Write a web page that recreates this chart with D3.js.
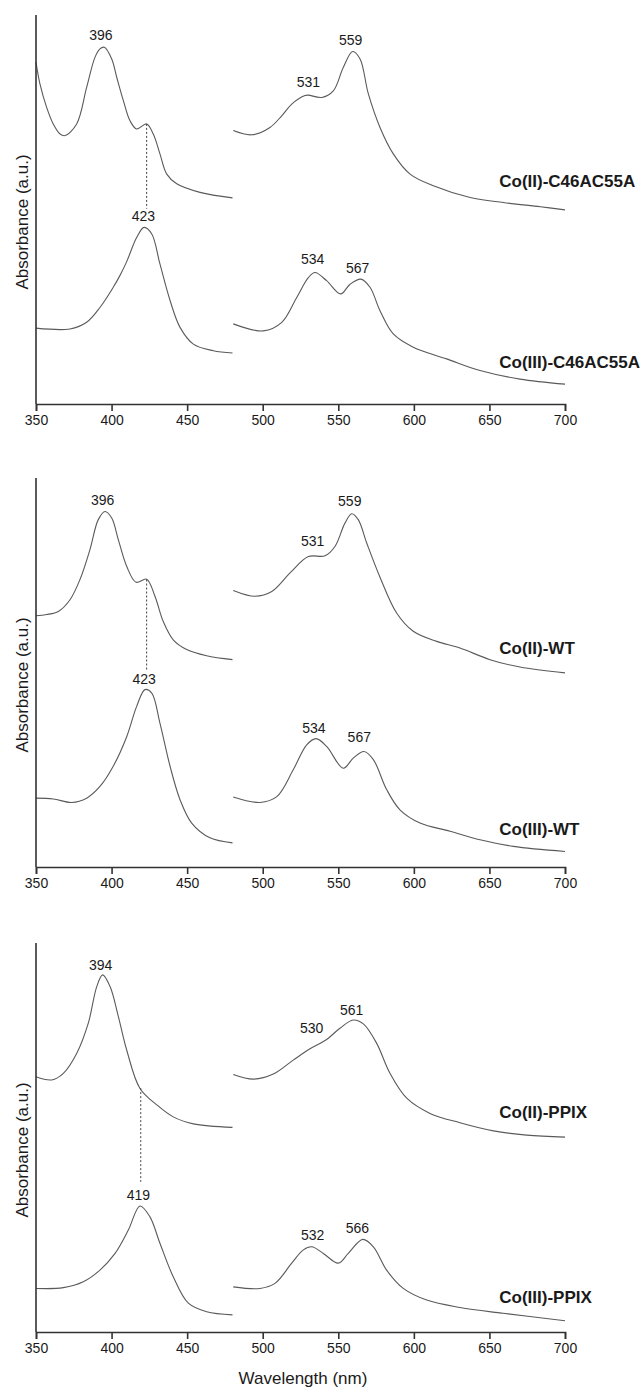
<!DOCTYPE html>
<html>
<head>
<meta charset="utf-8">
<script src="https://cdn.jsdelivr.net/npm/d3@7"></script>
<style>
body { margin: 0; background: #fff; }
text { font-family: "Liberation Sans", Arial, sans-serif; fill: #1a1a1a; }
</style>
</head>
<body>
<svg id="chart" width="641" height="1389"></svg>
<script>
// x ticks (nm)
var majorTicks = [350, 400, 450, 500, 550, 600, 650, 700]
var minorTicks = [375, 425, 475, 525, 575, 625, 675]

// spectra: [wavelength nm, absorbance a.u.]
// Soret part is 350-480 nm, Q part 480-700 nm (separately scaled in the figure)
var c46Co2Soret = [[350,0.878],[352.6,0.823],[357.1,0.762],[361.4,0.720],[365.9,0.694],[369.2,0.690],
  [376.9,0.720],[383.5,0.814],[389,0.891],[392.3,0.913],[395.2,0.917],[400.1,0.887],[403.4,0.840],
  [407.8,0.780],[412.2,0.728],[416.6,0.707],[423.2,0.720],[427.6,0.694],[432,0.643],[436.5,0.591],
  [443.1,0.566],[458.5,0.544],[480,0.530]]
var c46Co2Q = [[480.5,0.703],[492.7,0.692],[504.8,0.711],[512.6,0.741],[519.2,0.771],[528,0.793],
  [530.2,0.794],[539,0.788],[546.7,0.805],[553.3,0.865],[559.5,0.906],[564.4,0.887],[569.9,0.797],
  [577.6,0.711],[586.4,0.643],[597.5,0.591],[612.9,0.561],[637.2,0.531],[659.2,0.518],[683.7,0.507],[700,0.499]]
var c46Co3Soret = [[350,0.195],[372.5,0.193],[383.5,0.210],[392.3,0.248],[401.1,0.300],[405.5,0.330],
  [410,0.366],[416.6,0.428],[421.5,0.454],[426.6,0.437],[432,0.360],[438.7,0.266],[445.3,0.197],
  [454.1,0.154],[467.3,0.137],[480,0.131]]
var c46Co3Q = [[480.5,0.206],[500.4,0.188],[512.6,0.210],[522.5,0.274],[530.2,0.325],[534.6,0.338],
  [542.3,0.317],[551.6,0.283],[557.8,0.308],[565,0.321],[571,0.300],[577.6,0.240],[586.4,0.180],
  [599.6,0.146],[621.7,0.116],[643.8,0.086],[670.2,0.064],[700,0.051]]

var wtCo2Soret = [[350,0.646],[357.1,0.649],[364.8,0.657],[372.5,0.687],[379.1,0.739],[385.7,0.816],
  [391.2,0.893],[395.7,0.914],[400.1,0.897],[404.5,0.841],[410,0.773],[416.2,0.732],[423.2,0.740],
  [428.7,0.696],[434.2,0.631],[440.8,0.584],[449.7,0.559],[462.9,0.543],[480,0.533]]
var wtCo2Q = [[480.5,0.711],[494.9,0.696],[506,0.708],[518.1,0.756],[530.2,0.798],[541.2,0.800],
  [547.8,0.824],[554.4,0.884],[558.9,0.908],[563.2,0.893],[568.8,0.833],[577.6,0.745],[588.6,0.653],
  [599.6,0.606],[615.1,0.580],[630.5,0.563],[650.4,0.533],[670.2,0.514],[700,0.499]]
var wtCo3Soret = [[350,0.177],[361.4,0.175],[373.6,0.166],[383.5,0.177],[392.3,0.207],[401.1,0.259],
  [410,0.335],[416.6,0.413],[422.1,0.456],[426.6,0.447],[432,0.370],[438.7,0.259],[445.3,0.173],
  [453,0.113],[465.1,0.075],[480,0.062]]
var wtCo3Q = [[480.5,0.180],[498.2,0.166],[509.3,0.181],[520.2,0.250],[529.1,0.314],[535.3,0.330],
  [542.3,0.310],[553.3,0.254],[559.9,0.280],[567,0.297],[573.2,0.276],[582,0.199],[590.8,0.147],
  [604.1,0.113],[623.9,0.092],[643.8,0.070],[665.8,0.053],[700,0.040]]

var ppixCo2Soret = [[350,0.656],[360.4,0.648],[368.1,0.665],[376.9,0.716],[384.6,0.794],[390.2,0.888],
  [394.1,0.918],[399,0.888],[404.5,0.811],[410,0.725],[418.8,0.626],[429.9,0.584],[440.8,0.553],
  [454.1,0.535],[480,0.526]]
var ppixCo2Q = [[480.5,0.662],[493.8,0.650],[507,0.663],[520.2,0.699],[531.3,0.728],[542.3,0.752],
  [551.1,0.781],[559.9,0.802],[566.6,0.792],[575.4,0.742],[584.2,0.665],[595.3,0.601],[610.7,0.562],
  [630.5,0.538],[652.6,0.517],[674.7,0.506],[700,0.501]]
var ppixCo3Soret = [[350,0.112],[368.1,0.114],[381.3,0.129],[392.3,0.159],[402.3,0.202],[411.1,0.262],
  [418.8,0.324],[425.4,0.296],[432,0.228],[440.8,0.142],[450.8,0.074],[462.9,0.052],[480,0.044]]
var ppixCo3Q = [[480.5,0.116],[498.2,0.112],[508.1,0.125],[519.2,0.177],[526.9,0.211],[532.4,0.219],
  [540.1,0.202],[550,0.177],[556.6,0.202],[566.2,0.238],[573.2,0.219],[582,0.159],[593,0.112],
  [608.5,0.082],[630.5,0.063],[659.2,0.048],[700,0.029]]

var seriesNames = [["Co(II)-C46AC55A", "Co(III)-C46AC55A"],
                   ["Co(II)-WT", "Co(III)-WT"],
                   ["Co(II)-PPIX", "Co(III)-PPIX"]]
var seriesLabelAbs = [[0.559, 0.092], [0.548, 0.082], [0.551, 0.075]]
var seriesLabelNm = 656.5

// peak annotations: [text, wavelength, absorbance]
var peakLabels = [
  [["396",393,0.920],["423",421,0.454],["531",530.2,0.800],["559",558.2,0.907],["534",533,0.344],["567",562.8,0.321]],
  [["396",394.1,0.916],["423",421.5,0.455],["531",533,0.809],["559",557.6,0.913],["534",533.9,0.329],["567",563.9,0.305]],
  [["394",392.8,0.915],["419",417.7,0.324],["530",532.4,0.754],["561",558.9,0.799],["532",533,0.221],["566",562.6,0.238]]
]
// dotted drop lines: [wavelength, from abs, to abs]
var dropLines = [[423.2, 0.720, 0.502], [423.2, 0.739, 0.507], [419.3, 0.627, 0.386]]

var spectra = [
  [[c46Co2Soret, c46Co2Q], [c46Co3Soret, c46Co3Q]],
  [[wtCo2Soret, wtCo2Q], [wtCo3Soret, wtCo3Q]],
  [[ppixCo2Soret, ppixCo2Q], [ppixCo3Soret, ppixCo3Q]]
]

/********
* layout
********/
var plot_left = 36
var plot_right = 565
var panel_top = [15, 478, 943]
var panel_h = 389

var x = d3.scaleLinear().domain([350, 700]).range([plot_left, plot_right])

var svg = d3.select("#chart")

function draw_panel(i){
  var top = panel_top[i]
  var y = d3.scaleLinear().domain([0, 1]).range([top + panel_h, top])
  var g = svg.append("g").attr("class", "panel" + i)

  var line = d3.line()
    .x(function(d){ return x(d[0]) })
    .y(function(d){ return y(d[1]) })
    .curve(d3.curveCatmullRom.alpha(0.5))

  // curves
  spectra[i].forEach(function(s){
    s.forEach(function(seg){
      g.append("path")
        .attr("d", line(seg))
        .attr("fill", "none")
        .attr("stroke", "#5a5a5a")
        .attr("stroke-width", 1.1)
    })
  })

  // dotted line
  var dl = dropLines[i]
  g.append("line")
    .attr("x1", x(dl[0])).attr("x2", x(dl[0]))
    .attr("y1", y(dl[1])).attr("y2", y(dl[2]))
    .attr("stroke", "#444")
    .attr("stroke-width", 1)
    .attr("stroke-dasharray", "2,2")

  // peak labels
  g.selectAll(".peak")
    .data(peakLabels[i])
    .enter()
    .append("text")
    .attr("class", "peak")
    .attr("x", function(d){ return x(d[1]) })
    .attr("y", function(d){ return y(d[2]) - 6 })
    .attr("text-anchor", "middle")
    .attr("font-size", 14)
    .text(function(d){ return d[0] })

  // series names
  g.selectAll(".sname")
    .data(seriesNames[i])
    .enter()
    .append("text")
    .attr("class", "sname")
    .attr("x", x(seriesLabelNm))
    .attr("y", function(d, k){ return y(seriesLabelAbs[i][k]) })
    .attr("font-size", 17)
    .attr("font-weight", "bold")
    .text(function(d){ return d })

  // axes
  var ax = g.append("g").attr("transform", "translate(0," + (top + panel_h) + ")")
  ax.call(d3.axisBottom(x).tickValues(minorTicks).tickSize(4).tickFormat(""))
  ax.call(d3.axisBottom(x).tickValues(majorTicks).tickSize(7).tickPadding(4.5).tickFormat(d3.format("d")))
  ax.selectAll("path, line").attr("stroke", "#333").attr("stroke-width", 1.6)
  ax.selectAll("text").attr("font-size", 14).attr("fill", "#1a1a1a")
    .attr("font-family", "Liberation Sans, Arial, sans-serif")

  g.append("line")
    .attr("x1", plot_left).attr("x2", plot_left)
    .attr("y1", top).attr("y2", top + panel_h)
    .attr("stroke", "#333")
    .attr("stroke-width", 1.6)

  g.append("text")
    .attr("transform", "translate(28," + (top + 207) + ") rotate(-90)")
    .attr("text-anchor", "middle")
    .attr("font-size", 17)
    .text("Absorbance (a.u.)")
}

for (var i = 0; i < 3; i++){
  draw_panel(i)
}

svg.append("text")
  .attr("x", 303)
  .attr("y", 1384)
  .attr("text-anchor", "middle")
  .attr("font-size", 17)
  .text("Wavelength (nm)")
</script>
</body>
</html>
